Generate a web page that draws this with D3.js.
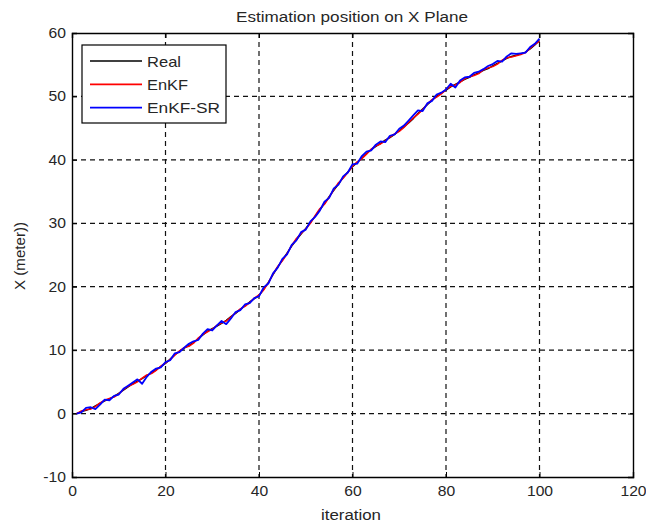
<!DOCTYPE html>
<html><head><meta charset="utf-8">
<script src="https://cdn.jsdelivr.net/npm/d3@7"></script>
<style>body{margin:0;background:#fff}svg{display:block}text{font-family:"Liberation Sans",Arial,sans-serif}</style>
</head><body><svg id="c" width="646" height="524"></svg>
<script>
const iterations = d3.range(1, 101);
const real = [0.0,0.3,0.5,0.8,1.2,1.6,2.0,2.3,2.7,3.2,3.7,4.2,4.7,5.1,5.5,6.0,6.4,6.9,7.4,7.9,8.6,9.3,9.8,10.3,10.7,11.2,11.8,12.4,13.0,13.4,13.8,14.2,14.7,15.3,15.8,16.4,17.0,17.6,18.1,18.6,19.6,20.7,21.9,23.1,24.2,25.3,26.4,27.4,28.3,29.2,30.1,31.1,32.1,33.1,34.2,35.2,36.2,37.2,38.1,38.9,39.6,40.3,41.0,41.6,42.1,42.6,43.1,43.5,44.0,44.6,45.2,45.8,46.5,47.3,48.0,48.7,49.4,50.0,50.5,51.0,51.5,51.9,52.3,52.7,53.0,53.4,53.7,54.1,54.4,54.8,55.2,55.6,56.0,56.3,56.5,56.7,57.0,57.5,58.1,58.8];
const enkf = [0.0,0.4,0.6,0.7,1.1,1.7,2.1,2.4,2.6,3.1,3.8,4.3,4.6,5.0,5.6,6.1,6.3,6.8,7.5,8.0,8.5,9.2,9.9,10.4,10.6,11.1,11.9,12.5,12.9,13.3,13.9,14.3,14.6,15.2,15.9,16.5,16.9,17.5,18.2,18.7,19.5,20.6,22.0,23.2,24.1,25.2,26.5,27.6,28.4,29.1,30.0,31.2,32.3,33.0,34.1,35.3,36.4,37.1,38.0,39.0,39.7,40.2,40.9,41.7,42.2,42.5,43.0,43.6,44.1,44.5,45.1,45.9,46.6,47.2,47.9,48.8,49.5,49.9,50.4,51.1,51.6,51.8,52.2,52.8,53.1,53.3,53.6,54.2,54.5,54.7,55.1,55.7,56.1,56.2,56.4,56.6,56.9,57.6,58.2,58.7];
const enkfSR = [0.0,0.2,0.9,1.0,0.7,1.4,2.2,2.1,2.8,3.0,3.9,4.4,4.9,5.4,4.7,5.8,6.6,7.1,7.3,8.1,8.4,9.5,9.7,10.4,11.0,11.4,11.6,12.6,13.3,13.1,13.9,14.6,14.1,15.0,16.0,16.3,17.2,17.4,18.2,18.5,19.9,20.5,22.1,23.0,24.4,25.1,26.6,27.3,28.6,29.0,30.3,31.0,32.0,33.4,34.0,35.5,36.1,37.4,38.0,39.3,39.4,40.6,41.3,41.5,42.4,42.9,42.8,43.8,44.0,44.9,45.4,46.2,47.0,47.8,47.7,48.9,49.3,50.3,50.6,51.1,52.0,51.4,52.5,53.0,53.1,53.7,53.9,54.3,54.8,55.1,55.6,55.5,56.3,56.8,56.7,56.8,56.9,57.8,58.3,59.1];
const xTicks = [0,20,40,60,80,100,120];
const yTicks = [-10,0,10,20,30,40,50,60];
const seriesNames = ["Real","EnKF","EnKF-SR"];
const seriesColors = ["#000000","#ff0000","#0000ff"];
const title = "Estimation position on X Plane";
const xLabel = "iteration";
const yLabel = "X (meter))";

const svg = d3.select("#c");
const L = 72, R = 633, T = 33, B = 477;
const x = d3.scaleLinear().domain([0,120]).range([L,R]);
const y = d3.scaleLinear().domain([-10,60]).range([B,T]);
const txt = "#262626";

// grid
const g = svg.append("g");
g.selectAll(".vx").data(xTicks.filter(t=>t>0&&t<120)).join("line")
  .attr("x1",d=>x(d)).attr("x2",d=>x(d)).attr("y1",T).attr("y2",B)
  .attr("stroke","#111").attr("stroke-width",1.2).attr("stroke-dasharray","5,4");
g.selectAll(".hy").data(yTicks.filter(t=>t>-10&&t<60)).join("line")
  .attr("y1",d=>y(d)).attr("y2",d=>y(d)).attr("x1",L).attr("x2",R)
  .attr("stroke","#111").attr("stroke-width",1.2).attr("stroke-dasharray","5,4");

// axes
const fmt = d => String(d);
const xa = svg.append("g").attr("transform",`translate(0,${B})`)
  .call(d3.axisBottom(x).tickValues(xTicks).tickSize(-5).tickPadding(9).tickFormat(fmt));
const xt = svg.append("g").attr("transform",`translate(0,${T})`)
  .call(d3.axisTop(x).tickValues(xTicks).tickSize(-5).tickFormat(""));
const ya = svg.append("g").attr("transform",`translate(${L},0)`)
  .call(d3.axisLeft(y).tickValues(yTicks).tickSize(-5).tickPadding(6).tickFormat(fmt));
const yr = svg.append("g").attr("transform",`translate(${R},0)`)
  .call(d3.axisRight(y).tickValues(yTicks).tickSize(-5).tickFormat(""));
[xa,xt,ya,yr].forEach(a=>{
  a.select(".domain").attr("stroke","#000").attr("stroke-width",1.4);
  a.selectAll(".tick line").attr("stroke","#000");
  a.selectAll("text").attr("font-size",14).attr("fill",txt).attr("font-family","Liberation Sans, Arial, sans-serif");
});
xa.selectAll(".tick text").attr("transform","scale(1.12,1)");
ya.selectAll(".tick text").attr("transform","scale(1.12,1)").attr("x",-5.5);

// lines
const line = d3.line().x((d,i)=>x(iterations[i])).y(d=>y(d));
const widths = [1.4,1.5,1.8];
[real,enkf,enkfSR].forEach((s,k)=>{
  svg.append("path").datum(s).attr("d",line).attr("fill","none")
    .attr("stroke",seriesColors[k]).attr("stroke-width",widths[k]).attr("stroke-linejoin","round");
});

// title & labels
svg.append("text").attr("x",352).attr("y",22).attr("text-anchor","middle").attr("font-size",14)
  .attr("textLength",232).attr("lengthAdjust","spacingAndGlyphs").attr("fill",txt).text(title);
svg.append("text").attr("x",351).attr("y",520).attr("text-anchor","middle").attr("font-size",14)
  .attr("textLength",60).attr("lengthAdjust","spacingAndGlyphs").attr("fill",txt).text(xLabel);
svg.append("text").attr("transform",`translate(25,256) rotate(-90)`).attr("text-anchor","middle").attr("font-size",14)
  .attr("textLength",68).attr("lengthAdjust","spacingAndGlyphs").attr("fill",txt).text(yLabel);

// legend
const lg = svg.append("g");
lg.append("rect").attr("x",82).attr("y",45).attr("width",144).attr("height",78).attr("fill","#fff").attr("stroke","#000").attr("stroke-width",1.2);
const legendLen = [34,41,73];
seriesNames.forEach((n,k)=>{
  const yy = 61 + k*23.3;
  lg.append("line").attr("x1",90).attr("x2",142).attr("y1",yy).attr("y2",yy).attr("stroke",seriesColors[k]).attr("stroke-width",1.7);
  lg.append("text").attr("x",147).attr("y",yy+5.5).attr("font-size",15).attr("fill",txt)
    .attr("textLength",legendLen[k]).attr("lengthAdjust","spacingAndGlyphs").text(n);
});
</script></body></html>
